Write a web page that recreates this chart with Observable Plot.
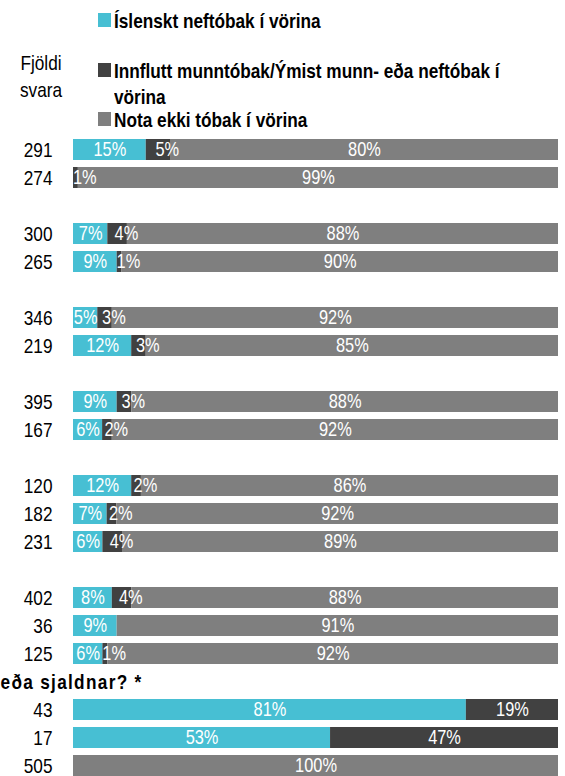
<!DOCTYPE html>
<html><head><meta charset="utf-8">
<script src="https://cdn.jsdelivr.net/npm/d3@7"></script>
<script src="https://cdn.jsdelivr.net/npm/@observablehq/plot@0.6"></script>
<style>
body{margin:0;background:#fff;font-family:"Liberation Sans",Arial,sans-serif;}
#wrap{position:relative;width:565px;height:776px;overflow:hidden;background:#fff}
.sw{position:absolute;width:13px;height:14px}
.lt{position:absolute;font-weight:bold;font-size:21px;line-height:21px;color:#000;white-space:nowrap;transform:scaleX(0.82);transform-origin:left top}
#fj{position:absolute;left:0;width:82px;text-align:center;font-size:21px;line-height:27px;top:49px;color:#000;transform:scaleX(0.82);transform-origin:center top}
#chart{position:absolute;left:0;top:139px}
</style></head>
<body>
<div id="wrap">
  <div id="legend"></div>
  <div id="fj">Fjöldi<br>svara</div>
  <div id="chart"></div>
</div>
<script>
const counts   = [291, 274, 300, 265, 346, 219, 395, 167, 120, 182, 231, 402, 36, 125, 43, 17, 505];
const islenskt = [15, 0, 7, 9, 5, 12, 9, 6, 12, 7, 6, 8, 9, 6, 81, 53, 0];
const innflutt = [5, 1, 4, 1, 3, 3, 3, 2, 2, 2, 4, 4, 0, 1, 19, 47, 0];
const nota     = [80, 99, 88, 90, 92, 85, 88, 92, 86, 92, 89, 88, 91, 92, 0, 0, 100];
const groupSizes = [2, 2, 2, 2, 3, 3, 3];
const seriesNames = ["Íslenskt neftóbak í vörina", "Innflutt munntóbak/Ýmist munn- eða neftóbak í vörina", "Nota ekki tóbak í vörina"];
const legendLines = [["Íslenskt neftóbak í vörina"], ["Innflutt munntóbak/Ýmist munn- eða neftóbak í", "vörina"], ["Nota ekki tóbak í vörina"]];
const seriesColors = ["#47bfd3", "#414141", "#7f7f7f"];
const sectionTitle = "eða sjaldnar? *";

// legend
const legend = document.getElementById("legend");
const legendTops = [[10], [60, 86], [109]];
legendLines.forEach((lines, k) => {
  const sw = document.createElement("div");
  sw.className = "sw";
  sw.style.left = "98px";
  sw.style.top = (legendTops[k][0] + 3) + "px";
  sw.style.background = seriesColors[k];
  legend.appendChild(sw);
  lines.forEach((line, j) => {
    const t = document.createElement("div");
    t.className = "lt";
    t.style.left = "114px";
    t.style.top = legendTops[k][j] + "px";
    t.textContent = line;
    legend.appendChild(t);
  });
});

// slots
const slots = [], rowSlot = [];
let r = 0;
groupSizes.forEach((n, g) => {
  for (let i = 0; i < n; i++) { rowSlot.push("r" + r); slots.push("r" + r); r++; }
  if (g < groupSizes.length - 1) slots.push("s" + g);
});
const titleSlot = "s" + (groupSizes.length - 2);
const countBySlot = new Map(rowSlot.map((s, i) => [s, counts[i]]));

const data = [];
counts.forEach((c, i) => {
  [islenskt[i], innflutt[i], nota[i]].forEach((v, k) =>
    data.push({slot: rowSlot[i], series: seriesNames[k], k, value: v}));
});

const narrowDark = d => d.k === 1 && d.value > 0 && d.value < 10;
const st = o => Plot.stackX({x: "value", y: "slot", z: "series", offset: "normalize", ...o});

const chart = Plot.plot({
  width: 565, height: 637,
  marginLeft: 73, marginRight: 7, marginTop: 0, marginBottom: 0,
  style: {fontFamily: '"Liberation Sans",Arial,sans-serif', background: "white", overflow: "visible"},
  x: {domain: [0, 1], axis: null},
  y: {domain: slots, paddingInner: 0.25, paddingOuter: 0, align: 0, axis: null, label: null},
  color: {domain: seriesNames, range: seriesColors},
  marks: [
    Plot.barX(data, st({fill: "series"})),
    Plot.text(data, st({text: d => (d.value > 0 && !narrowDark(d)) ? d.value + "%" : "", fill: "white", fontSize: 20})),
    Plot.text(data, st({text: d => narrowDark(d) ? d.value + "%" : "", fill: "white", fontSize: 20, textAnchor: "start", dx: -3})),
    Plot.axisY({domain: slots, tickSize: 0, tickPadding: 21, fontSize: 21, fill: "black", label: null,
      tickFormat: s => countBySlot.has(s) ? String(countBySlot.get(s)) : ""}),
    Plot.text([sectionTitle], {y: () => titleSlot, frameAnchor: "left", dx: -73, textAnchor: "start",
      fontWeight: "bold", fontSize: 21, fill: "black", text: d => d})
  ]
});
// narrow the glyphs horizontally, keeping each anchor point in place
chart.querySelectorAll("text").forEach(t => {
  const tr = t.getAttribute("transform");
  if (tr) t.setAttribute("transform", tr + " scale(0.82,1)");
  else {
    const x = +t.getAttribute("x") || 0, y = +t.getAttribute("y") || 0;
    t.removeAttribute("x"); t.removeAttribute("y");
    t.setAttribute("transform", `translate(${x},${y}) scale(0.82,1)`);
  }
  if (t.textContent === sectionTitle) t.style.letterSpacing = "1.6px";
});
document.getElementById("chart").appendChild(chart);
</script>
</body></html>
